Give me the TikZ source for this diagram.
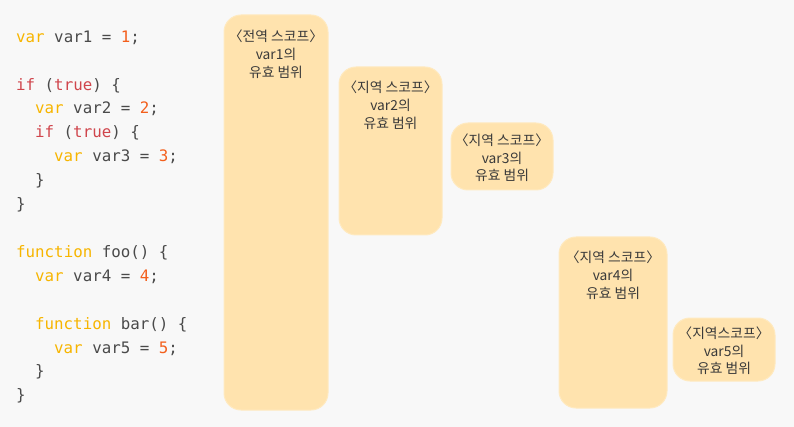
\documentclass[tikz,border=0pt]{standalone}
\usepackage{fontspec}
\setmonofont{DejaVu Sans Mono}
\newfontfamily\krfont{Noto Sans CJK KR}
\definecolor{bgc}{HTML}{F8F8F8}
\definecolor{boxfill}{HTML}{FFE3AE}
\definecolor{boxline}{HTML}{FFEAC0}
\definecolor{kwy}{HTML}{F7B500}
\definecolor{kwr}{HTML}{D0454C}
\definecolor{numc}{HTML}{F35F1C}
\definecolor{idc}{HTML}{4A4A4A}
\definecolor{lblc}{HTML}{3A3A3A}
\newcommand\kv[1]{\textcolor{kwy}{#1}}
\newcommand\kr[1]{\textcolor{kwr}{#1}}
\newcommand\nm[1]{\textcolor{numc}{#1}}
\tikzset{
  x=1pt, y=-1pt,
  codeline/.style={anchor=base west, inner sep=0pt, text=idc, font=\ttfamily\fontsize{15.8}{24}\selectfont},
  scopebox/.style={draw=boxline, line width=1pt, fill=boxfill, rounded corners=17pt, inner sep=0pt},
  lbl/.style={anchor=base, inner sep=0pt, text=lblc, font=\krfont\fontsize{13.8}{18}\selectfont},
}
\begin{document}
\begin{tikzpicture}
\useasboundingbox (0,0) rectangle (794,427);
\fill[bgc] (0,0) rectangle (794,427);
% code
\node[codeline] (c0) at (16,42.3) {\kv{var} var1 = \nm{1};};
\node[codeline] (c2) at (16,90.1) {\kr{if} (\kr{true}) \{};
\node[codeline] (c3) at (35,114.0) {\kv{var} var2 = \nm{2};};
\node[codeline] (c4) at (35,137.9) {\kr{if} (\kr{true}) \{};
\node[codeline] (c5) at (54,161.8) {\kv{var} var3 = \nm{3};};
\node[codeline] (c6) at (35,185.7) {\}};
\node[codeline] (c7) at (16,209.6) {\}};
\node[codeline] (c9) at (16,257.4) {\kv{function} foo() \{};
\node[codeline] (c10) at (35,281.3) {\kv{var} var4 = \nm{4};};
\node[codeline] (c12) at (35,329.1) {\kv{function} bar() \{};
\node[codeline] (c13) at (54,353.0) {\kv{var} var5 = \nm{5};};
\node[codeline] (c14) at (35,376.9) {\}};
\node[codeline] (c15) at (16,400.8) {\}};
% scope boxes
\draw[scopebox] (224,15) rectangle (328,410);
\draw[scopebox] (339,67) rectangle (442,235);
\draw[scopebox] (451,123) rectangle (553,190);
\draw[scopebox] (559,237) rectangle (667,408);
\draw[scopebox] (673,318) rectangle (775,381);
% labels
\node[lbl] (b1a) at (276,41.5) {〈전역 스코프〉};
\node[lbl] (b1b) at (276,59.5) {var1의};
\node[lbl] (b1c) at (276,77.5) {유효 범위};
\node[lbl] (b2a) at (390.5,92.5) {〈지역 스코프〉};
\node[lbl] (b2b) at (390.5,110.5) {var2의};
\node[lbl] (b2c) at (390.5,128.5) {유효 범위};
\node[lbl] (b3a) at (502,145.5) {〈지역 스코프〉};
\node[lbl] (b3b) at (502,163.5) {var3의};
\node[lbl] (b3c) at (502,181) {유효 범위};
\node[lbl] (b4a) at (613,262.5) {〈지역 스코프〉};
\node[lbl] (b4b) at (613,280.5) {var4의};
\node[lbl] (b4c) at (613,298.5) {유효 범위};
\node[lbl] (b5a) at (724,338.5) {〈지역스코프〉};
\node[lbl] (b5b) at (724,356) {var5의};
\node[lbl] (b5c) at (724,373) {유효 범위};
\end{tikzpicture}
\end{document}
